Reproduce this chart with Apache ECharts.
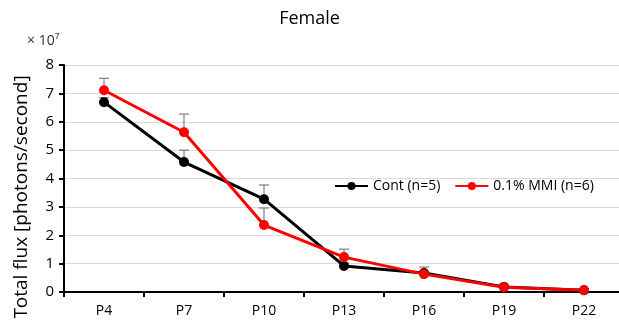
<!DOCTYPE html>
<html>
<head>
<meta charset="utf-8">
<script src="https://cdn.jsdelivr.net/npm/echarts@6/dist/echarts.min.js"></script>
<style>
  html, body { margin: 0; padding: 0; background: #fff; }
  #chart { width: 619px; height: 324px; }
</style>
</head>
<body>
<div id="chart"></div>
<script>
// 数据（单位 ×10^7）
const days = ["P4", "P7", "P10", "P13", "P16", "P19", "P22"];
const contMean = [6.69, 4.58, 3.27, 0.92, 0.67, 0.18, 0.06];
const contUpper = [6.85, 5.0, 3.77, 1.0, 0.88, 0.22, 0.08];
const mmiMean = [7.11, 5.63, 2.36, 1.23, 0.63, 0.17, 0.06];
const mmiUpper = [7.53, 6.27, 2.96, 1.51, 0.7, 0.21, 0.08];
const yTicks = [0, 1, 2, 3, 4, 5, 6, 7, 8];

const font = "'Open Sans', 'Noto Sans', sans-serif";
const chart = echarts.init(document.getElementById("chart"));

// 误差线（只画上侧）
const errorBar = (name, mean, upper) => ({
  name: name + "_err",
  type: "custom",
  z: 1,
  silent: true,
  data: mean.map((m, i) => [i, m, upper[i]]),
  renderItem: (params, api) => {
    const lo = api.coord([api.value(0), api.value(1)]);
    const hi = api.coord([api.value(0), api.value(2)]);
    const style = { stroke: "#7f7f7f", lineWidth: 1.2 };
    return {
      type: "group",
      children: [
        { type: "line", shape: { x1: lo[0], y1: lo[1], x2: hi[0], y2: hi[1] }, style },
        { type: "line", shape: { x1: hi[0] - 5, y1: hi[1], x2: hi[0] + 5, y2: hi[1] }, style },
      ],
    };
  },
});

const lineSeries = (name, data, color) => ({
  name,
  type: "line",
  z: 3,
  data,
  symbol: "circle",
  symbolSize: 10,
  lineStyle: { color, width: 3 },
  itemStyle: { color },
});

chart.setOption({
  animation: false,
  backgroundColor: "#fff",
  textStyle: { fontFamily: font },
  title: {
    text: "Female",
    left: "center",
    top: 5,
    textStyle: { fontFamily: font, fontSize: 18, fontWeight: "normal", color: "#000" },
  },
  graphic: [
    {
      type: "text",
      left: 27,
      top: 32,
      style: {
        text: "× 10{sup|7}",
        rich: { sup: { fontSize: 9, verticalAlign: "top", padding: [0, 0, 9, 0] } },
        fontSize: 14,
        fontFamily: font,
        fill: "#333",
      },
    },
    {
      // y 轴标题，位置略低于绘图区中心
      type: "text",
      x: 22,
      y: 197,
      rotation: Math.PI / 2,
      style: {
        text: "Total flux [photons/second]",
        fontSize: 19,
        fontFamily: font,
        fill: "#000",
        align: "center",
        verticalAlign: "middle",
      },
    },
  ],
  legend: {
    data: ["Cont (n=5)", "0.1% MMI (n=6)"],
    left: 334,
    top: 179,
    width: 290,
    padding: 0,
    itemWidth: 33,
    itemHeight: 10,
    itemGap: 14,
    textStyle: { fontFamily: font, fontSize: 14, color: "#000" },
  },
  grid: { left: 64, right: -5, top: 65, bottom: 32, outerBoundsMode: "none" },
  xAxis: {
    type: "category",
    data: days,
    axisLine: { lineStyle: { color: "#000", width: 2 } },
    axisTick: { show: true, length: 5, lineStyle: { color: "#000", width: 2 } },
    axisLabel: { color: "#000", fontSize: 14, margin: 12 },
  },
  yAxis: {
    type: "value",
    min: yTicks[0],
    max: yTicks[yTicks.length - 1],
    interval: 1,
    axisLine: { show: true, lineStyle: { color: "#000", width: 2 } },
    axisTick: { show: true, length: 5, lineStyle: { color: "#000", width: 2 } },
    axisLabel: { color: "#000", fontSize: 15, margin: 10 },
    splitLine: { lineStyle: { color: "#d9d9d9", width: 1 } },
  },
  series: [
    errorBar("Cont (n=5)", contMean, contUpper),
    errorBar("0.1% MMI (n=6)", mmiMean, mmiUpper),
    lineSeries("Cont (n=5)", contMean, "#000"),
    lineSeries("0.1% MMI (n=6)", mmiMean, "#ff0000"),
  ],
});
</script>
</body>
</html>
